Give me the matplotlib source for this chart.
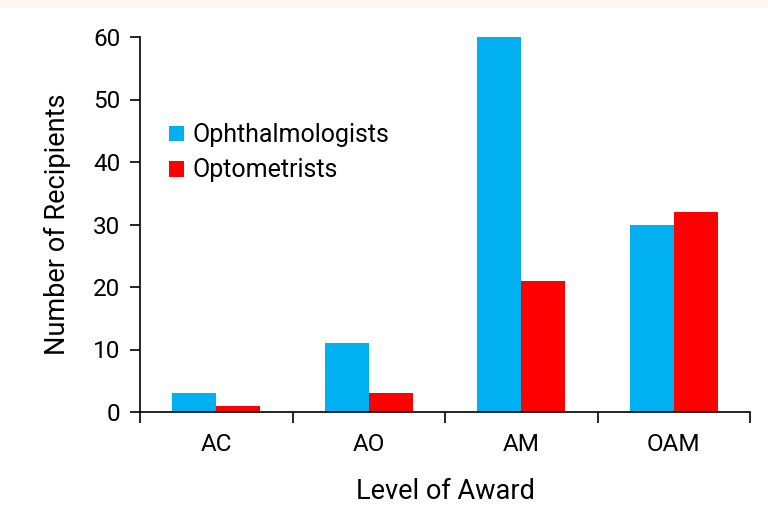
import matplotlib
matplotlib.use("Agg")
import matplotlib.pyplot as plt
import numpy as np
from matplotlib.patches import Rectangle

categories = ["AC", "AO", "AM", "OAM"]
ophthalmologists = [3, 11, 60, 30]
optometrists = [1, 3, 21, 32]
series_names = ["Ophthalmologists", "Optometrists"]
yticks = [0, 10, 20, 30, 40, 50, 60]

plt.rcParams['font.family'] = ['Roboto', 'DejaVu Sans']

fig = plt.figure(figsize=(7.68, 5.09), dpi=100)
fig.patches.append(Rectangle((0, 1 - 6/509), 1, 6/509, transform=fig.transFigure,
                             color='#FDF6F0', zorder=0))
ax = fig.add_axes([140/768, 1 - 412/509, 610/768, 375/509])

x = np.arange(len(categories))
w = 0.29
ax.bar(x - w/2, ophthalmologists, w, color='#00B0F0', label=series_names[0])
ax.bar(x + w/2, optometrists, w, color='#FF0000', label=series_names[1])

ax.set_xlim(-0.5, len(categories) - 0.5)
ax.set_ylim(0, 60)
ax.set_yticks(yticks)
ax.set_xticks(x)
ax.set_xticklabels(categories)
ax.set_xticks(np.arange(len(categories) + 1) - 0.5, minor=True)
ax.tick_params(axis='x', which='major', length=0, pad=15, labelsize=17.5)
ax.tick_params(axis='x', which='minor', length=8, width=1.2, direction='out')
ax.tick_params(axis='y', length=7, width=1.2, direction='out', labelsize=17.5, pad=7)

for s in ['top', 'right']:
    ax.spines[s].set_visible(False)
for s in ['left', 'bottom']:
    ax.spines[s].set_linewidth(1.2)

ax.set_xlabel("Level of Award", fontsize=19.5, labelpad=16)
ax.set_ylabel("Number of Recipients", fontsize=19.5, labelpad=16)

ax.legend(loc='upper left', bbox_to_anchor=(0.01, 0.83), frameon=False, fontsize=18,
          handlelength=0.6, handleheight=0.6, handletextpad=0.35, labelspacing=0.45)

fig.savefig("out.png", dpi=100)
